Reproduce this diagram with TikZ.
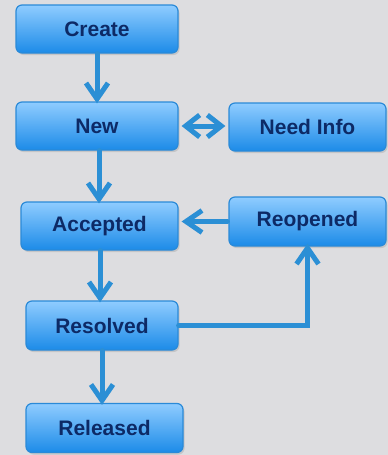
\documentclass[tikz,border=0pt]{standalone}
\usepackage{fontspec}
\setmainfont{Liberation Sans}
\usetikzlibrary{arrows.meta,shadows}
\definecolor{bg}{HTML}{DDDDE0}
\definecolor{boxtop}{HTML}{8FCCFF}
\definecolor{boxbot}{HTML}{1C8BE8}
\definecolor{boxline}{HTML}{2A8AD8}
\definecolor{textcol}{HTML}{0D2A66}
\definecolor{arrowcol}{HTML}{2B8FD5}
\tikzset{
  state/.style={draw=boxline, line width=1.2pt, rounded corners=6pt,
    top color=boxtop, bottom color=boxbot, text=textcol,
    font=\fontsize{21}{24}\selectfont\bfseries,
    minimum height=48pt, inner sep=0pt,
    drop shadow={opacity=0.25, shadow xshift=1.5pt, shadow yshift=-2pt}},
  flow/.style={draw=arrowcol, line width=5pt, line cap=round,
    -{Straight Barb[length=16pt,width=22pt]}},
  both/.style={draw=arrowcol, line width=5pt, line cap=round,
    {Straight Barb[length=14pt,width=22pt]}-{Straight Barb[length=14pt,width=22pt]}}
}

\begin{document}
\begin{tikzpicture}[x=1pt,y=-1pt]
      \useasboundingbox[fill=bg] (0,0) rectangle (388,455);

      \node[state, minimum width=162pt] (create) at (97,29) {Create};
      \node[state, minimum width=162pt] (new) at (97,126) {New};
      \node[state, minimum width=157pt] (info) at (307.5,127) {Need Info};
      \node[state, minimum width=157pt] (accepted) at (99.5,226) {Accepted};
      \node[state, minimum width=157pt, minimum height=49pt] (reopened) at (307.5,221.5) {Reopened};
      \node[state, minimum width=152pt, minimum height=49pt] (resolved) at (102,325.5) {Resolved};
      \node[state, minimum width=157pt, minimum height=49pt] (released) at (104.5,428) {Released};

      \draw[flow] (create.south) -- ([yshift=-2pt]new.north);
      \draw[flow] ([xshift=2pt]new.south) -- ([xshift=-0.5pt,yshift=-2pt]accepted.north);
      \draw[flow] ([xshift=0.5pt]accepted.south) -- ([xshift=-2pt,yshift=-2pt]resolved.north);
      \draw[flow] (resolved.south) -- ([xshift=-2.5pt,yshift=-2pt]released.north);
      \draw[both] ([xshift=3pt]new.east) -- ([xshift=-3pt]info.west |- new.east);
      \draw[flow] ([xshift=-1pt]reopened.west) -- ([xshift=3pt]accepted.east |- reopened.west);
      \draw[flow, rounded corners=0pt] (resolved.east) -| ([yshift=3pt]reopened.south);
    \end{tikzpicture}
\end{document}
